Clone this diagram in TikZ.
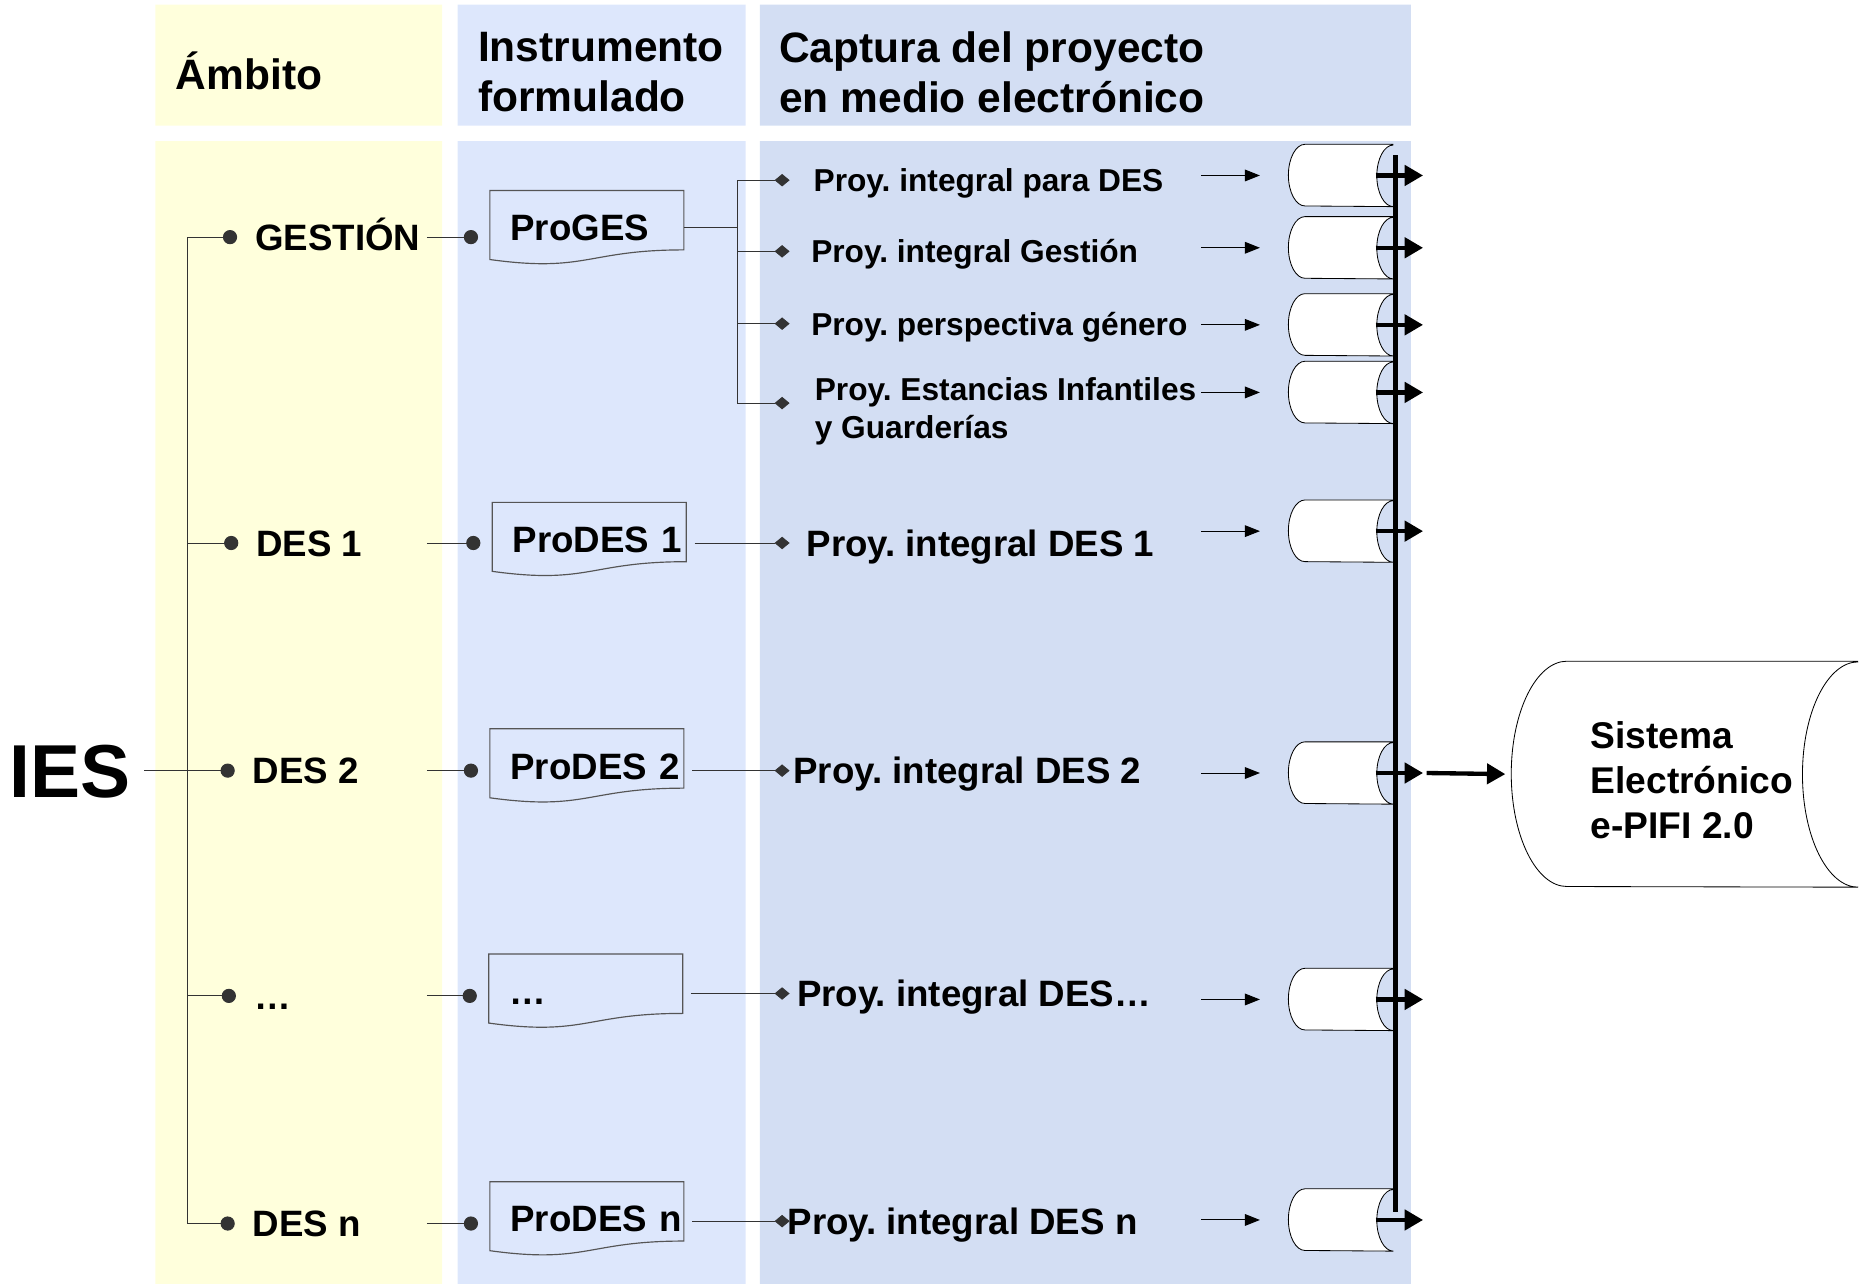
\documentclass[tikz,border=0pt]{standalone}
\usepackage{fontspec}
\setmainfont{Liberation Sans}
\usetikzlibrary{positioning,arrows.meta,calc}

\definecolor{ambyellow}{HTML}{FFFFDC}
\definecolor{instblue}{HTML}{DDE7FC}
\definecolor{capblue}{HTML}{D3DEF3}
\definecolor{docline}{HTML}{555555}

\pgfdeclarelayer{shade}
\pgfdeclarelayer{back}
\pgfsetlayers{shade,back,main}

% flowchart document sheet round a named node
\newcommand{\docoutline}[1]{%
  \draw[docline,line width=0.7pt] (#1.north west) -- (#1.north east)
    -- ($(#1.north east)!0.80!(#1.south east)$)
    .. controls ($(#1.north)!0.80!(#1.south)$) and ($(#1.north)!1.11!(#1.south)$)
    .. ($(#1.north west)!0.93!(#1.south west)$) -- cycle;}
% drum (stored data) round a named node: name, x radius, y radius
\newcommand{\drumoutline}[3]{%
  \filldraw[fill=white,draw=black,line width=0.5pt]
    (#1.north east) -- ([xshift=#2]#1.north west)
    arc[start angle=90,end angle=270,x radius=#2,y radius=#3]
    -- (#1.south east)
    arc[start angle=270,end angle=90,x radius=#2,y radius=#3];}

\tikzset{
  head/.style={font=\fontsize{25.5}{30}\selectfont\bfseries,anchor=west,align=left,inner sep=0pt},
  ambito/.style={font=\fontsize{22}{26}\selectfont\bfseries,anchor=west,inner sep=0pt,text height=17.6pt,text depth=1.8pt},
  proy/.style={ambito},
  subproy/.style={font=\fontsize{19}{22.8}\selectfont\bfseries,anchor=west,inner sep=0pt,text height=15.2pt,text depth=1.5pt},
  docbox/.style={rectangle,minimum height=1.55cm,text width=3.225cm,inner xsep=0.425cm,inner ysep=0pt,align=left,
    font=\fontsize{22}{26}\selectfont\bfseries,text height=17.6pt,text depth=1.8pt},
  drum/.style={rectangle,minimum width=2.2cm,minimum height=1.3cm,inner sep=0pt},
  link/.style={draw=black!80,line width=0.6pt},
  dotlink/.style={link,-{Circle[length=8.5pt]}},
  diamlink/.style={link,-{Diamond[length=9pt,width=7.5pt]}},
  feed/.style={line width=0.6pt,-{Triangle[length=9pt,width=7pt]}},
  busline/.style={line width=2.8pt},
  busarrow/.style={line width=2.6pt,-{Triangle[length=11pt,width=12pt]}}
}

\begin{document}
\frenchspacing
\begin{tikzpicture}[x=0.025cm,y=-0.025cm]
\useasboundingbox (0,0) rectangle (1568,1084);

\begin{pgfonlayer}{shade}
\fill[ambyellow] (131,4) rectangle (373,106) (131,119) rectangle (373,1083);
\fill[instblue] (386,4) rectangle (629,106) (386,119) rectangle (629,1083);
\fill[capblue] (641,4) rectangle (1190,106) (641,119) rectangle (1190,1083);
\end{pgfonlayer}

% headers
\node[head] (hamb) at (148,60) {Ámbito};
\node[head] (hins) at (403,61) {Instrumento\\formulado};
\node[head] (hcap) at (657,61) {Captura del proyecto\\en medio electrónico};

% ambito
\node[font=\fontsize{45}{50}\selectfont\bfseries,anchor=west,inner sep=0pt,text height=36pt,text depth=3.6pt] (ies) at (8,650) {IES};
\node[ambito] (ges) at (215,200) {GESTIÓN};
\node[ambito] (des1) at (216,458) {DES 1};
\node[ambito] (des2) at (213,650) {DES 2};
\node[ambito] (desx) at (214,840) {…};
\node[ambito] (desn) at (213,1032) {DES n};

% instrumentos
\node[docbox] (proges) at (495,192) {ProGES};
\node[docbox] (prodes1) at (497,455) {ProDES~1};
\node[docbox] (prodes2) at (495,646) {ProDES~2};
\node[docbox] (prodesx) at (494,836) {…};
\node[docbox] (prodesn) at (495,1028) {ProDES~n};

% proyectos
\node[subproy] (pg1) at (686,152) {Proy. integral para DES};
\node[subproy] (pg2) at (684,212) {Proy. integral Gestión};
\node[subproy] (pg3) at (684,273) {Proy. perspectiva género};
\node[subproy,align=left,text height=,text depth=] (pg4) at (687,347) {Proy. Estancias Infantiles\\y Guarderías};
\node[proy] (pd1) at (680,458) {Proy. integral DES 1};
\node[proy] (pd2) at (669,650) {Proy. integral DES 2};
\node[proy] (pdx) at (672,838) {Proy. integral DES…};
\node[proy] (pdn) at (664,1030) {Proy. integral DES n};

% captura
\node[drum] (c1) at (1131,148) {};
\node[drum] (c2) at (1131,209) {};
\node[drum] (c3) at (1131,274) {};
\node[drum] (c4) at (1131,331) {};
\node[drum] (cd1) at (1131,448) {};
\node[drum] (cd2) at (1131,652) {};
\node[drum] (cdx) at (1131,843) {};
\node[drum] (cdn) at (1131,1029) {};
\node[minimum width=7.3cm,minimum height=4.75cm,inner sep=0pt,align=left,
  font=\fontsize{22.3}{27}\selectfont\bfseries] (sis) at (1421,653)
  {\hspace*{0.3cm}\rule{0pt}{23pt}Sistema\\\hspace*{0.3cm}Electrónico\\\hspace*{0.3cm}e-PIFI 2.0};

\begin{pgfonlayer}{back}
\foreach \n in {proges,prodes1,prodes2,prodesx,prodesn} {\docoutline{\n}}
\foreach \n in {c1,c2,c3,c4,cd1,cd2,cdx,cdn} {\drumoutline{\n}{0.35cm}{0.65cm}}
\drumoutline{sis}{1.175cm}{2.375cm}
\end{pgfonlayer}

\coordinate (trunk) at (158,650);
\coordinate (lcol) at (360,650);
\coordinate (brk) at (622,192);
\coordinate (dcol) at (666,192);
\coordinate (acol) at (1013,148);
\coordinate (bustop) at (1177,131);
\coordinate (busbot) at (1177,1022);

% tree
\draw[link,shorten <=0.275cm] (ies.east) -- (trunk);
\foreach \n in {ges,des1,des2,desx,desn}
  \draw[dotlink,shorten >=0.375cm] (trunk) |- (\n.west);
\foreach \a/\b in {ges/proges,des1/prodes1,des2/prodes2,desx/prodesx,desn/prodesn}
  \draw[dotlink,shorten >=0.25cm] (lcol |- \a) -- (\b.west |- \a);

% instrumento -> proyecto
\draw[link] (proges.east) -- (brk);
\foreach \p in {pg1,pg2,pg3}
  \draw[diamlink] (brk) |- (dcol |- \p);
\draw[diamlink] (brk) |- ($(dcol |- pg4)+(0,-7)$);
\foreach \a/\b in {prodes1/pd1,prodes2/pd2,prodesx/pdx,prodesn/pdn}
  \draw[diamlink,shorten <=0.175cm] (\a.east |- \b) -- (dcol |- \b);

% proyecto -> captura -> sistema
\foreach \c in {c1,c2,c3,c4,cd1,cd2,cdx,cdn}
  \draw[feed,shorten >=0.6cm] (acol |- \c) -- (\c.west);
\draw[busline] (bustop) -- (busbot);
\foreach \c in {c1,c2,c3,c4,cd1,cd2,cdx,cdn}
  \draw[busarrow] ([xshift=-0.375cm]\c.east) -- ([xshift=0.625cm]\c.east);
\draw[busarrow,shorten >=0.125cm] ([xshift=0.7cm]cd2.east) -- (sis.west);
\end{tikzpicture}
\end{document}
